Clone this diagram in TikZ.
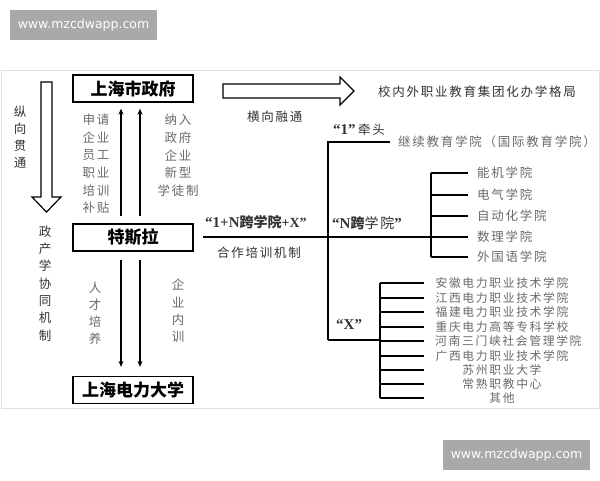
\documentclass[tikz,border=0pt]{standalone}
\usepackage{fontspec}
\usetikzlibrary{arrows.meta}
\newfontfamily\cjk[LetterSpace=14]{Noto Sans CJK SC}
\newfontfamily\cjkbox{Noto Sans CJK SC}
\newfontfamily\serifb{Liberation Serif}
\newfontfamily\websans{DejaVu Sans}
\definecolor{txtgray}{HTML}{6A6A6A}
\definecolor{txtdark}{HTML}{333333}
\definecolor{wmgray}{HTML}{A9A9A9}
\tikzset{
  box/.style={draw=black, line width=1.3pt, minimum width=120pt, minimum height=27pt, inner sep=0pt,
    font=\cjkbox\bfseries\fontsize{17}{17}\selectfont},
  lbl/.style={inner sep=0pt, text=txtgray, font=\cjk\fontsize{12.5}{15}\selectfont},
  dlbl/.style={inner sep=0pt, text=txtdark, font=\cjk\fontsize{12.5}{15}\selectfont},
  leaf/.style={inner sep=0pt, text=txtgray, font=\cjk\fontsize{11.8}{14}\selectfont},
  qlbl/.style={inner sep=0pt, anchor=west, text=txtdark, font=\serifb\bfseries\fontsize{15}{16}\selectfont},
  branch/.style={line width=1.4pt, black},
  varrow/.style={line width=1.2pt, -{Stealth[length=6pt,width=5pt]}},
  hollow/.style={draw=black, line width=1.2pt, fill=white},
  wmbox/.style={fill=wmgray, text=white, inner sep=0pt, minimum width=147pt, minimum height=30pt,
    font=\websans\fontsize{12.5}{13}\selectfont}
}
\begin{document}
\begin{tikzpicture}[x=1pt, y=-1pt]
\useasboundingbox (0,0) rectangle (600,480);
\fill[white] (0,0) rectangle (600,480);
% frame of the figure
\draw[draw=black!12, line width=1pt] (1,70) rectangle (599,408);

% watermark boxes
\node[wmbox] (wm1) at (83.5,25) {www.mzcdwapp.com};
\node[wmbox] (wm2) at (516.5,455) {www.mzcdwapp.com};

% main boxes
\node[box] (gov) at (133,88.5) {上海市政府};
\node[box] (tesla) at (133,237.5) {特斯拉};
\node[box] (univ) at (133,390) {上海电力大学};

% vertical arrows
\draw[varrow, shorten <=7pt, shorten >=6pt] ([xshift=-12pt]tesla.north) -- ([xshift=-12pt]gov.south);
\draw[varrow, shorten <=7pt, shorten >=6pt] ([xshift=7pt]tesla.north) -- ([xshift=7pt]gov.south);
\draw[varrow, shorten <=8pt, shorten >=9pt] ([xshift=-12pt]tesla.south) -- ([xshift=-12pt]univ.north);
\draw[varrow, shorten <=8pt, shorten >=9pt] ([xshift=7pt]tesla.south) -- ([xshift=7pt]univ.north);

% hollow arrows
\draw[hollow] (41,82) -- (52,82) -- (52,197) -- (61,197) -- (46.5,212) -- (32,197) -- (41,197) -- cycle;
\draw[hollow] (223,84) -- (340,84) -- (340,77) -- (354,91) -- (340,105) -- (340,98) -- (223,98) -- cycle;

% vertical labels
\foreach \c [count=\i from 0] in {纵,向,贯,通}
  \node[dlbl] (zx\i) at (20,112+17*\i) {\c};
\foreach \c [count=\i from 0] in {政,产,学,协,同,机,制}
  \node[dlbl] (zc\i) at (45,231.5+17.3*\i) {\c};
\foreach \c [count=\i from 0] in {申请,企业,员工,职业,培训,补贴}
  \node[lbl] (sq\i) at (96,120+17.6*\i) {\c};
\foreach \c [count=\i from 0] in {纳入,政府,企业,新型,学徒制}
  \node[lbl] (nr\i) at (178,120+17.6*\i) {\c};
\foreach \c [count=\i from 0] in {人,才,培,养}
  \node[lbl] (rc\i) at (95,288+17*\i) {\c};
\foreach \c [count=\i from 0] in {企,业,内,训}
  \node[lbl] (qy\i) at (178,285+17.3*\i) {\c};

% horizontal labels
\node[dlbl, anchor=west] (hx) at (247,117) {横向融通};
\node[dlbl, anchor=west] (geju) at (378,92) {校内外职业教育集团化办学格局};
\node[qlbl] (onelab) at (205,222) {“1+N\cjkbox\bfseries\fontsize{14}{16}\selectfont 跨学院\serifb +X”};
\node[dlbl, anchor=west] (hzpx) at (217,253) {合作培训机制};
\node[qlbl] (qt) at (333,130) {“1”\,\cjk\mdseries\fontsize{12.5}{15}\selectfont 牵头};
\node[qlbl] (nlab) at (332,223) {“N\cjkbox\bfseries\fontsize{14}{16}\selectfont 跨\cjk\mdseries 学院\serifb\bfseries\fontsize{15}{16}\selectfont ”};
\node[qlbl] (xlab) at (336,325) {“X”};

% tree coordinates
\coordinate (h0) at (203,237);
\coordinate (m1) at (328,142);
\coordinate (m2) at (328,340);
\coordinate (n1) at (431,173);
\coordinate (n2) at (431,257);
\coordinate (x1) at (380,283);
\coordinate (x2) at (380,398);

% "1" branch
\node[lbl, anchor=west] (jx) at (398,142) {继续教育学院（国际教育学院）};
\draw[branch] (m2) -- (m1) -- (390,142);

% N branch leaves
\node[lbl, anchor=west] (nj) at (477,173) {能机学院};
\node[lbl, anchor=west] (dq) at (477,195) {电气学院};
\node[lbl, anchor=west] (zdh) at (477,216) {自动化学院};
\node[lbl, anchor=west] (sl) at (477,237) {数理学院};
\node[lbl, anchor=west] (wgy) at (477,257) {外国语学院};
\draw[branch] (h0) -- (468,237);
\draw[branch] (n1) -- (n2);
\foreach \y in {173,195,216,257}
  \draw[branch] (431,\y) -- (468,\y);

% X branch
\draw[branch] (m2) -- (380,340);
\draw[branch] (x1) -- (x2);
\foreach \y in {283,298,312,327,341,356,370,384,398}
  \draw[branch] (380,\y) -- (424,\y);
\node[leaf] (ah) at (502,283) {安徽电力职业技术学院};
\node[leaf] (jxx) at (502,298) {江西电力职业技术学院};
\node[leaf] (fj) at (502,312) {福建电力职业技术学院};
\node[leaf] (cq) at (502,327) {重庆电力高等专科学校};
\node[leaf, anchor=west] (hn) at (435,341) {河南三门峡社会管理学院};
\node[leaf] (gx) at (502,356) {广西电力职业技术学院};
\node[leaf] (sz) at (502,370) {苏州职业大学};
\node[leaf] (cs) at (502,384) {常熟职教中心};
\node[leaf] (qt2) at (502,398) {其他};
\end{tikzpicture}
\end{document}
